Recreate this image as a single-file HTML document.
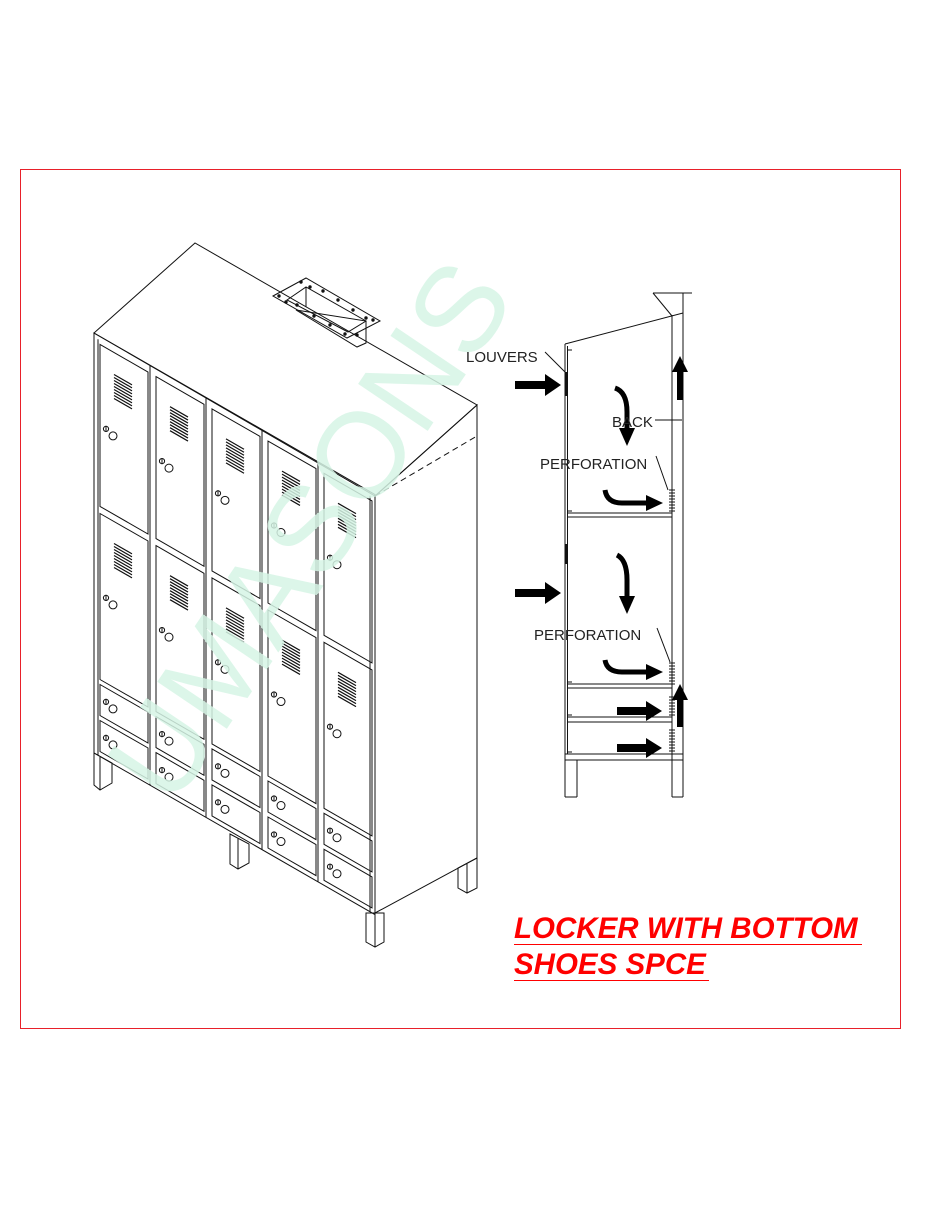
<!DOCTYPE html>
<html><head><meta charset="utf-8"><style>
html,body{margin:0;padding:0;background:#fff;}
svg{display:block;}
.t{font-family:"Liberation Sans",sans-serif;font-size:15px;fill:#222;}
</style></head><body>
<svg id="s" width="925" height="1205" viewBox="0 0 925 1205" xmlns="http://www.w3.org/2000/svg">
<rect x="20.5" y="169.5" width="880" height="859" fill="none" stroke="#e8202a" stroke-width="1"/>
<g id="draw" fill="none" stroke="#111" stroke-width="1"></g>
<text x="0" y="0" transform="translate(172,810) rotate(-56)" font-family="Liberation Sans,sans-serif" font-size="122" fill="#d6f5e5" fill-opacity="0.85">UMASONS</text>
<g id="top" fill="none" stroke="#111" stroke-width="1"></g>
<g fill="none" stroke="#111" stroke-width="1">
<line x1="565" y1="344" x2="565" y2="797"/><line x1="567.5" y1="346" x2="567.5" y2="754"/>
<line x1="565" y1="344" x2="683" y2="313"/>
<line x1="672" y1="315" x2="672" y2="797"/><line x1="683" y1="293" x2="683" y2="797"/>
<line x1="653" y1="293" x2="692" y2="293"/><line x1="653" y1="293" x2="672" y2="316"/>
<line x1="567" y1="513" x2="672" y2="513"/><line x1="567" y1="517" x2="672" y2="517"/>
<line x1="567" y1="684" x2="672" y2="684"/><line x1="567" y1="688" x2="672" y2="688"/>
<line x1="567" y1="717" x2="672" y2="717"/><line x1="567" y1="722" x2="672" y2="722"/>
<line x1="565" y1="754" x2="683" y2="754"/><line x1="565" y1="760" x2="683" y2="760"/>
<line x1="577" y1="760" x2="577" y2="797"/><line x1="565" y1="797" x2="577" y2="797"/>
<line x1="672" y1="797" x2="683" y2="797"/>
<line x1="567" y1="511" x2="572" y2="511"/><line x1="567" y1="682" x2="572" y2="682"/><line x1="567" y1="715" x2="572" y2="715"/><line x1="567" y1="752" x2="572" y2="752"/>
<line x1="568" y1="350" x2="572" y2="350"/>
<line x1="545" y1="352" x2="565" y2="372"/>
<line x1="655" y1="420" x2="682" y2="420"/>
<line x1="656" y1="456" x2="668" y2="490"/>
<line x1="657" y1="628" x2="670" y2="662"/>
</g>
<g stroke="#111" stroke-width="2.5">
<line x1="566" y1="372" x2="566" y2="396"/><line x1="566" y1="544" x2="566" y2="564"/>
</g>
<g id="perf" stroke="#111" stroke-width="1"></g>
<g fill="#000" stroke="none">
<path d="M515 381 H545 V374 L561 385 L545 396 V389 H515Z"/>
<path d="M515 589 H545 V582 L561 593 L545 604 V597 H515Z"/>
<path d="M617 707 H646 V701 L662 711 L646 721 V715 H617Z"/>
<path d="M617 744 H646 V738 L662 748 L646 758 V752 H617Z"/>
<path d="M677 400 V372 H672 L680 356 L688 372 H683 V400Z"/>
<path d="M677 727 V700 H672 L680 684 L688 700 H683 V727Z"/>
</g>
<g fill="none" stroke="#000" stroke-width="5">
<path d="M615 388 Q627 392 627 412 V430"/>
<path d="M617 555 Q627 560 627 580 V598"/>
<path d="M605 490 Q607 503 622 503 H648"/>
<path d="M605 660 Q607 672 622 672 H648"/>
</g>
<g fill="#000">
<path d="M619 428 H635 L627 446Z"/>
<path d="M619 596 H635 L627 614Z"/>
<path d="M646 495 V511 L663 503Z"/>
<path d="M646 664 V680 L663 672Z"/>
</g>
<text class="t" x="466" y="362">LOUVERS</text>
<text class="t" x="612" y="427">BACK</text>
<text class="t" x="540" y="469">PERFORATION</text>
<text class="t" x="534" y="640">PERFORATION</text>
<g font-family="Liberation Sans,sans-serif" font-size="29.5" font-weight="bold" font-style="italic" fill="#f00">
<text x="514" y="938">LOCKER WITH BOTTOM</text>
<text x="514" y="974">SHOES SPCE</text>
</g>
<line x1="514" y1="944.5" x2="862" y2="944.5" stroke="#f00" stroke-width="1"/>
<line x1="514" y1="980.5" x2="709" y2="980.5" stroke="#f00" stroke-width="1"/>
</svg>
<script>
(function(){
var g=document.getElementById('draw'),NS='http://www.w3.org/2000/svg';
function P(u,v){return [94+u,333+0.575*u+v];}
function add(tag,attrs,parent){var e=document.createElementNS(NS,tag);for(var k in attrs)e.setAttribute(k,attrs[k]);(parent||g).appendChild(e);return e;}
function poly(pts,parent,extra){var a={points:pts.map(function(p){return p[0].toFixed(1)+','+p[1].toFixed(1)}).join(' ')};if(extra)for(var k in extra)a[k]=extra[k];return add('polygon',a,parent);}
function line(a,b,extra){var at={x1:a[0],y1:a[1],x2:b[0],y2:b[1]};if(extra)for(var k in extra)at[k]=extra[k];add('line',at);}
poly([[94,333],[195,243],[477,405],[375,496]]);
poly([P(0,0),P(281,0),P(281,420),P(0,420)]);
line(P(4,4),P(4,420));line(P(276,4),P(276,420));
poly([[375,496],[477,405],[477,858],[375,913]]);
line([375,496],[477,436],{'stroke-dasharray':'6,4'});
var ranges=[[8,170],[177,343],[348,379],[384,415]];
for(var c=0;c<5;c++){
 var u0=6+56*c,u1=54+56*c;
 for(var r=0;r<4;r++){
  var v0=ranges[r][0],v1=ranges[r][1];
  poly([P(u0,v0),P(u1,v0),P(u1,v1),P(u0,v1)]);
  var lv;
  if(r<2){
   for(var i=0;i<9;i++){var vv=v0+22+i*3;line(P(u0+14,vv),P(u0+32,vv),{'stroke-width':'1.2'});}
   lv=v0+84;
  } else lv=v0+17;
  var pc=P(u0+13,lv);
  add('circle',{cx:pc[0],cy:pc[1],r:4});
  var pk=P(u0+6,lv-3);
  add('circle',{cx:pk[0],cy:pk[1],r:2.6});
  line([pk[0],pk[1]-3],[pk[0],pk[1]+3]);
 }
 if(c>0){var ux=56*c;line(P(ux,0),P(ux,420));}
}
poly([[94,753],[94,785],[100,790],[112,783],[112,763]]);line([100,757],[100,790]);
poly([[230,834],[230,864],[238,869],[249,863],[249,844]]);line([238,838],[238,869]);
poly([[366,913],[366,942],[375,947],[384,942],[384,913]]);line([375,913],[375,947]);
poly([[458,868],[458,888],[467,893],[477,888],[477,858]]);line([467,863],[467,893]);
var t=document.getElementById('top');
poly([[273,296],[306,278],[380,321],[347,338]],t);
poly([[287,300],[306,287],[366,321],[348,332]],t);
poly([[296,310],[357,347],[366,343],[366,321]],t);
add('line',{x1:306,y1:287,x2:306,y2:307},t);
var dots=[[279,296],[301,282],[310,287],[323,291],[338,300],[353,310],[366,318],[373,320],[357,335],[345,334],[330,325],[314,316],[297,305],[286,302]];
dots.forEach(function(d){add('circle',{cx:d[0],cy:d[1],r:1.2,fill:'#111'},t);});
var pf=document.getElementById('perf');
[[490,512],[663,684],[697,717],[730,752]].forEach(function(r){for(var y=r[0];y<=r[1];y+=3)add('line',{x1:669,y1:y,x2:675,y2:y},pf);});
})();
</script>
</body></html>
